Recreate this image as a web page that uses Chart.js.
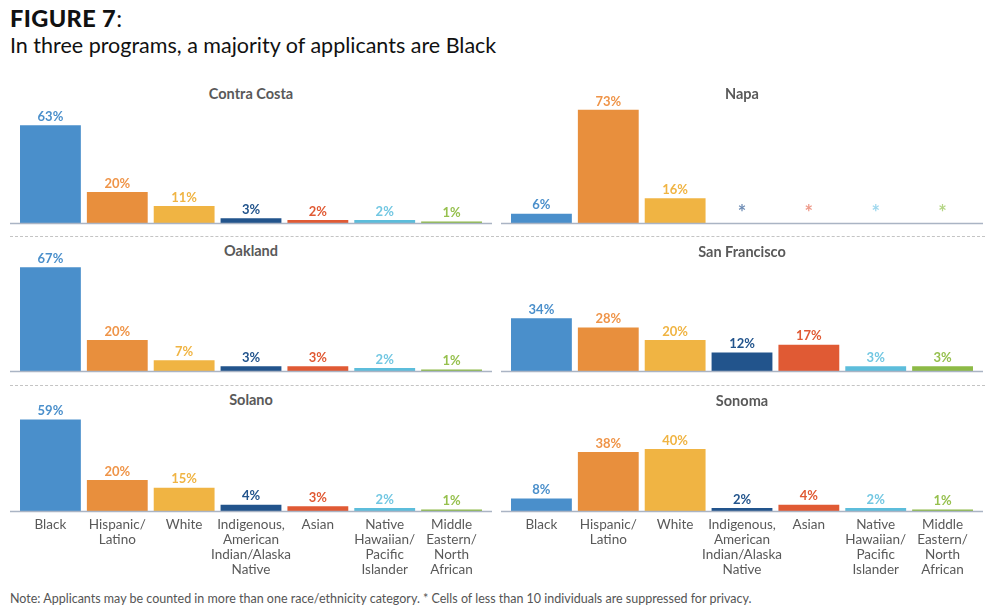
<!DOCTYPE html>
<html>
<head>
<meta charset="utf-8">
<script src="https://cdn.jsdelivr.net/npm/chart.js@4"></script>
<style>
  body { margin: 0; background: #fff; width: 1000px; height: 615px; position: relative; overflow: hidden; font-family: Lato, "Open Sans", sans-serif; }
  .hd { position: absolute; left: 10px; color: #111; white-space: nowrap; }
  #fig { top: 4px; font-size: 23.5px; }
  #fig b { font-weight: 900; letter-spacing: 0.4px; }
  #sub { top: 32px; font-size: 21.5px; }
  .pt { position: absolute; width: 500px; text-align: center; font-size: 14.5px; line-height: 18px; font-weight: bold; color: #595959; }
  canvas { position: absolute; }
  .dash { position: absolute; left: 10px; width: 975px; border-top: 1.5px dashed #c4c4c4; }
  #note { position: absolute; left: 10px; top: 591px; font-size: 12.5px; color: #555; }
</style>
</head>
<body>
<div class="hd" id="fig"><b>FIGURE 7</b>:</div>
<div class="hd" id="sub">In three programs, a majority of applicants are Black</div>

<div class="dash" style="top:236px"></div>
<div class="dash" style="top:385px"></div>
<div id="note">Note: Applicants may be counted in more than one race/ethnicity category. * Cells of less than 10 individuals are suppressed for privacy.</div>

<script>
const categories = [
  ["Black"],
  ["Hispanic/", "Latino"],
  ["White"],
  ["Indigenous,", "American", "Indian/Alaska", "Native"],
  ["Asian"],
  ["Native", "Hawaiian/", "Pacific", "Islander"],
  ["Middle", "Eastern/", "North", "African"],
];
const barColors = ["#4a8fcb", "#e88f3d", "#f0b443", "#22548c", "#e05a34", "#5cbddb", "#8dba46"];
const labelColors = ["#4a8fcb", "#ef9448", "#f0b443", "#22548c", "#e05a34", "#72c7e2", "#96c04e"];
const starColors = ["#6f8cba", "#f0a08a", "#f3c97a", "#6f8db5", "#ee9a8a", "#9fd8ee", "#b4d585"];

// null = suppressed (fewer than 10 individuals)
const contraCosta = [63, 20, 11, 3, 2, 2, 1];
const napa = [6, 73, 16, null, null, null, null];
const oakland = [67, 20, 7, 3, 3, 2, 1];
const sanFrancisco = [34, 28, 20, 12, 17, 3, 3];
const solano = [59, 20, 15, 4, 3, 2, 1];
const sonoma = [8, 38, 40, 2, 4, 2, 1];

const panels = [
  { name: "Contra Costa", data: contraCosta, left: 0, base: 223, titleY: 94, ticks: false },
  { name: "Napa", data: napa, left: 491, base: 223, titleY: 94, ticks: false },
  { name: "Oakland", data: oakland, left: 0, base: 371, titleY: 251, ticks: false },
  { name: "San Francisco", data: sanFrancisco, left: 491, base: 371, titleY: 252, ticks: false },
  { name: "Solano", data: solano, left: 0, base: 511, titleY: 400, ticks: true },
  { name: "Sonoma", data: sonoma, left: 491, base: 511, titleY: 401, ticks: true },
];

const PAD_TOP = 20, PLOT_H = 124, PAD_BOT = 2, TICK_H = 80;

const valueLabels = {
  id: "valueLabels",
  afterDatasetsDraw(chart) {
    const ctx = chart.ctx;
    const meta = chart.getDatasetMeta(0);
    const ys = chart.scales.y;
    const area = chart.chartArea;
    // baseline
    ctx.save();
    ctx.strokeStyle = "#aab4c4";
    ctx.lineWidth = 1.5;
    ctx.beginPath();
    ctx.moveTo(area.left - 7, area.bottom + 0.5);
    ctx.lineTo(area.right + 7, area.bottom + 0.5);
    ctx.stroke();
    ctx.textAlign = "center";
    ctx.textBaseline = "middle";
    chart.data.datasets[0].data.forEach((v, i) => {
      const x = meta.data[i].x;
      if (v === null) {
        ctx.font = "bold 20px Lato, sans-serif";
        ctx.fillStyle = starColors[i];
        ctx.fillText("*", x, area.bottom - 9);
      } else {
        ctx.font = "bold 13px Lato, sans-serif";
        ctx.fillStyle = labelColors[i];
        ctx.fillText(v + "%", x, ys.getPixelForValue(v) - 8.5);
      }
    });
    ctx.restore();
  },
};

panels.forEach((p) => {
  const h = PAD_TOP + PLOT_H + (p.ticks ? TICK_H : 0) + PAD_BOT;
  const top = p.base - PLOT_H - PAD_TOP;

  const title = document.createElement("div");
  title.className = "pt";
  title.style.left = p.left + 1 + "px";
  title.style.top = (p.titleY - 9) + "px";
  title.textContent = p.name;
  document.body.appendChild(title);

  const canvas = document.createElement("canvas");
  canvas.width = 500;
  canvas.height = h;
  canvas.style.left = p.left + "px";
  canvas.style.top = top + "px";
  document.body.appendChild(canvas);

  new Chart(canvas, {
    type: "bar",
    data: {
      labels: categories,
      datasets: [{
        data: p.data,
        backgroundColor: barColors,
        borderWidth: 0,
        categoryPercentage: 1,
        barPercentage: 0.91,
      }],
    },
    options: {
      responsive: false,
      animation: false,
      events: [],
      layout: { padding: { top: PAD_TOP, bottom: PAD_BOT, left: 17, right: 15 } },
      plugins: { legend: { display: false }, tooltip: { enabled: false }, title: { display: false } },
      scales: {
        y: { display: false, min: 0, max: 80 },
        x: {
          grid: { display: false, drawTicks: false },
          border: { display: false },
          ticks: {
            display: p.ticks,
            color: "#595959",
            padding: 6,
            maxRotation: 0,
            autoSkip: false,
            font: { family: "Lato, sans-serif", size: 13.5, lineHeight: 1.12 },
          },
          afterFit(s) { s.height = p.ticks ? TICK_H : 0; },
        },
      },
    },
    plugins: [valueLabels],
  });
});
</script>
</body>
</html>
